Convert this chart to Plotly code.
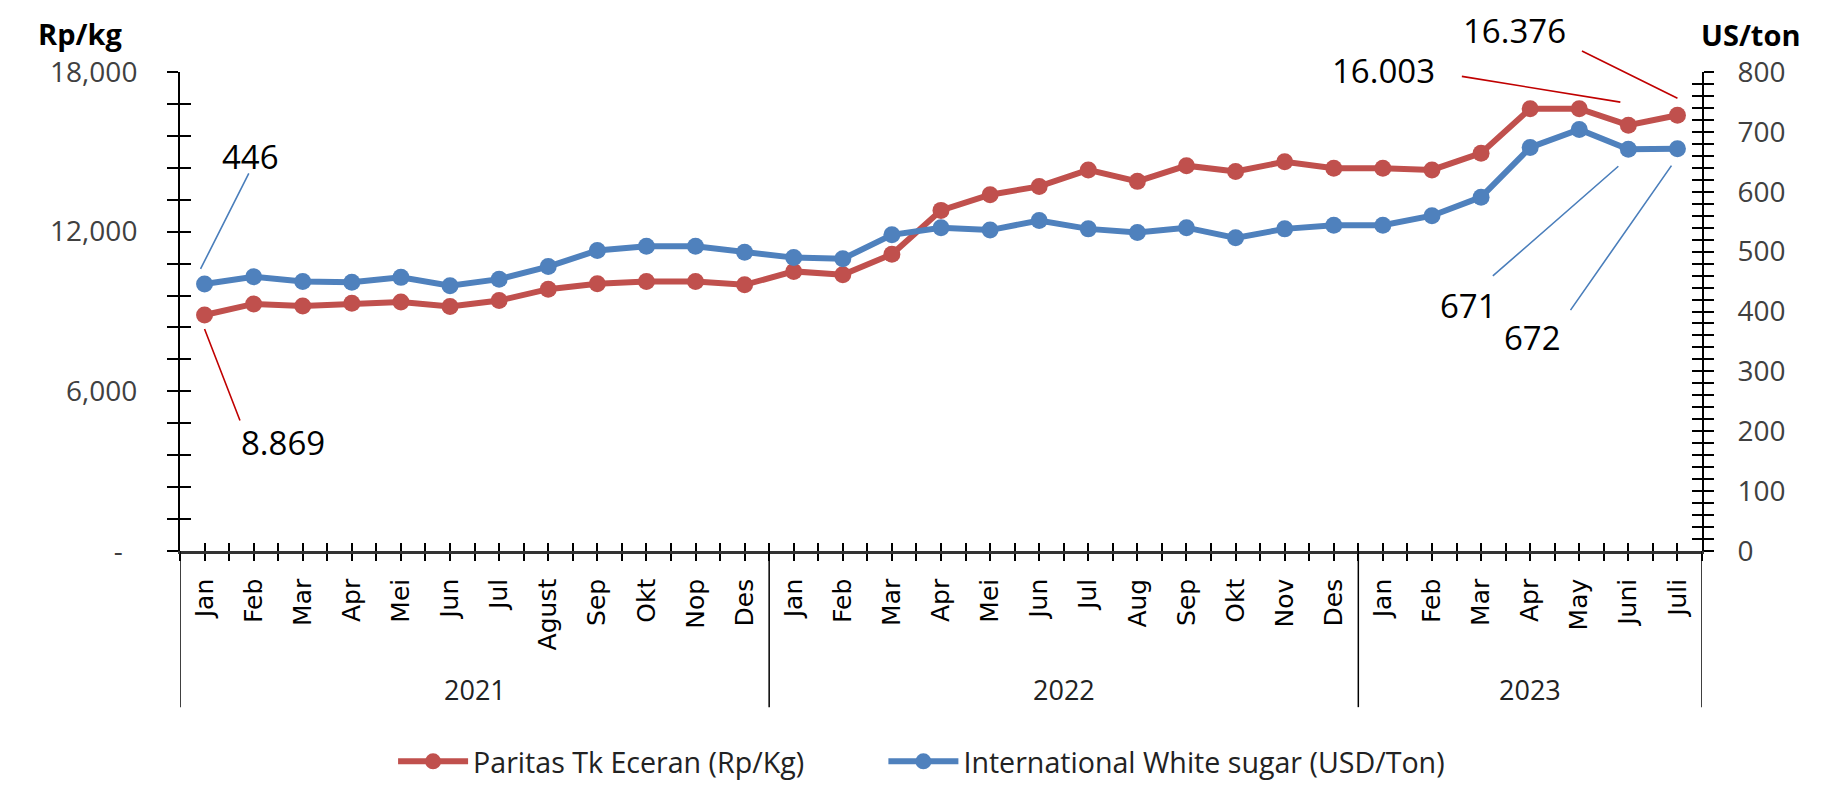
import plotly.graph_objects as go

# ---------------- data ----------------
months = ["Jan", "Feb", "Mar", "Apr", "Mei", "Jun", "Jul", "Agust", "Sep", "Okt", "Nop", "Des",
          "Jan", "Feb", "Mar", "Apr", "Mei", "Jun", "Jul", "Aug", "Sep", "Okt", "Nov", "Des",
          "Jan", "Feb", "Mar", "Apr", "May", "Juni", "Juli"]
years = ["2021"] * 12 + ["2022"] * 12 + ["2023"] * 7

paritas_rp_kg = [8869, 9285, 9209, 9310, 9360, 9184, 9411, 9839, 10041, 10129, 10129, 10003,
                 10507, 10381, 11150, 12800, 13390, 13700, 14320, 13890, 14480, 14260, 14630, 14380,
                 14380, 14320, 14950, 16620, 16620, 16003, 16376]
white_sugar_usd_ton = [446, 458, 450, 449, 457, 443, 454, 475, 502, 509, 509, 499,
                       490, 488, 528, 540, 536, 552, 538, 532, 540, 523, 538, 544,
                       544, 560, 591, 674, 704, 671, 672]

left_ticks = [0, 6000, 12000, 18000]
left_ticktext = ["-\u00a0\u00a0", "6,000", "12,000", "18,000"]

series_names = ["Paritas Tk Eceran (Rp/Kg)", "International White sugar (USD/Ton)"]

# data labels: (series, point index)
labelled_points = [("red", 0), ("red", 29), ("red", 30),
                   ("blue", 0), ("blue", 29), ("blue", 30)]

# ---------------- styling ----------------
RED = "#C0504D"
BLUE = "#4F81BD"
RED_LEADER = "#C00000"
BLUE_LEADER = "#4A7EBB"
TICK_FONT = "Open Sans, DejaVu Sans, sans-serif"

x = list(range(len(months)))

fig = go.Figure()
fig.add_trace(go.Scatter(
    x=x, y=paritas_rp_kg, name=series_names[0] + "\u00a0" * 10, mode="lines+markers",
    line=dict(color=RED, width=6), marker=dict(color=RED, size=17),
    xaxis="x", yaxis="y"))
fig.add_trace(go.Scatter(
    x=x, y=white_sugar_usd_ton, name=series_names[1], mode="lines+markers",
    line=dict(color=BLUE, width=6), marker=dict(color=BLUE, size=17),
    xaxis="x", yaxis="y2"))
# invisible helpers so that the overlay axes (inside half of the cross ticks) are drawn
fig.add_trace(go.Scatter(x=[None], y=[None], xaxis="x2", yaxis="y3", showlegend=False, hoverinfo="skip"))
fig.add_trace(go.Scatter(x=[None], y=[None], xaxis="x2", yaxis="y4", showlegend=False, hoverinfo="skip"))

n = len(months)
xrange = [-0.5, n - 0.5]
boundaries = [i - 0.5 for i in range(n + 1)]

# page body has an 8px margin: figure is 16px smaller so it fits the window exactly
fig.update_layout(
    width=1808, height=773,
    paper_bgcolor="white", plot_bgcolor="white",
    margin=dict(l=172, r=114, t=64, b=230, autoexpand=False),
    font=dict(family=TICK_FONT, color="#222"),
    showlegend=True,
    legend=dict(orientation="h", x=0.140, xanchor="left", y=-0.44, yanchor="middle",
                font=dict(size=28.6, family=TICK_FONT, color="#222"), itemwidth=70,
                bgcolor="rgba(0,0,0,0)"),
    xaxis=dict(range=xrange, tickmode="array", tickvals=x, ticktext=months, tickangle=-90,
               tickfont=dict(family="DejaVu Sans, sans-serif", size=25, color="black"),
               ticks="outside", ticklen=7, tickwidth=1.5, tickcolor="black",
               minor=dict(tickvals=boundaries, ticks="outside", ticklen=7, tickwidth=1.5, tickcolor="black"),
               showline=True, linecolor="#333", linewidth=2.5, showgrid=False, zeroline=False,
               ticklabelstandoff=8, fixedrange=True),
    xaxis2=dict(range=xrange, overlaying="x", anchor="y", side="bottom", tickmode="array",
                tickvals=x, ticks="inside", ticklen=8, tickwidth=1.5, tickcolor="black",
                minor=dict(tickvals=boundaries, ticks="inside", ticklen=8, tickwidth=1.5, tickcolor="black"),
                showticklabels=False, showline=False, showgrid=False, zeroline=False),
    yaxis=dict(range=[0, 18000], tickmode="array", tickvals=left_ticks, ticktext=left_ticktext,
               tickfont=dict(family=TICK_FONT, size=28, color="#404040"),
               ticks="outside", ticklen=11, tickwidth=1.5, tickcolor="black",
               minor=dict(dtick=1200, tick0=0, ticks="outside", ticklen=11, tickwidth=1.5, tickcolor="black"),
               showline=True, linecolor="black", linewidth=2, showgrid=False, zeroline=False,
               ticklabelstandoff=24),
    yaxis3=dict(range=[0, 18000], overlaying="y", anchor="x", side="left", dtick=1200, tick0=0,
                ticks="inside", ticklen=11, tickwidth=1.5, tickcolor="black",
                showticklabels=False, showline=False, showgrid=False, zeroline=False),
    yaxis2=dict(range=[0, 800], overlaying="y", anchor="x", side="right", dtick=100, tick0=0,
                tickfont=dict(family=TICK_FONT, size=28, color="#404040"),
                ticks="outside", ticklen=10, tickwidth=1.5, tickcolor="black",
                minor=dict(dtick=20, tick0=0, ticks="outside", ticklen=10, tickwidth=1.5, tickcolor="black"),
                showline=True, linecolor="black", linewidth=2, showgrid=False, zeroline=False,
                ticklabelstandoff=18),
    yaxis4=dict(range=[0, 800], overlaying="y", anchor="x", side="right", dtick=20, tick0=0,
                ticks="inside", ticklen=10, tickwidth=1.5, tickcolor="black",
                showticklabels=False, showline=False, showgrid=False, zeroline=False),
)

shapes = []
annotations = []

# year group separators and year labels
groups = []
for i, yr in enumerate(years):
    if not groups or groups[-1][0] != yr:
        groups.append([yr, i, i])
    else:
        groups[-1][2] = i
for gi, (yr, a, b) in enumerate(groups):
    edges = [a - 0.5, b + 0.5] if gi == 0 else [b + 0.5]
    for e in edges:
        shapes.append(dict(type="line", xref="x", yref="paper", x0=e, x1=e, y0=0, y1=-0.326,
                           line=dict(color="black", width=1.5)))
    annotations.append(dict(x=(a + b) / 2, y=-0.29, xref="x", yref="paper", text=yr,
                            showarrow=False, xanchor="center", yanchor="middle",
                            font=dict(size=27, family=TICK_FONT, color="#222")))

# axis unit titles
annotations.append(dict(x=-0.0657, y=1.081, xref="paper", yref="paper", text="<b>Rp/kg</b>",
                        showarrow=False, xanchor="center", yanchor="middle",
                        font=dict(size=29, family=TICK_FONT, color="black")))
annotations.append(dict(x=1.032, y=1.079, xref="paper", yref="paper", text="<b>US/ton</b>",
                        showarrow=False, xanchor="center", yanchor="middle", borderpad=0,
                        font=dict(size=29, family=TICK_FONT, color="black")))

# data labels and leader lines: (text shift), (leader head shift), (leader tail offset)
label_layout = {
    ("red", 0): ((78, -128), (0, -14), (36, 93)),
    ("red", 29): ((-245, 55), (-8, 23), (-160, -26)),
    ("red", 30): ((-163, 85), (0, 17), (-97, -48)),
    ("blue", 0): ((46, 127), (-4, 15), (49, -97)),
    ("blue", 29): ((-160, -156), (-10, -17), (-127, 111)),
    ("blue", 30): ((-145, -189), (-6, -17), (-102, 146)),
}
for series, idx in labelled_points:
    if series == "red":
        val = paritas_rp_kg[idx]
        txt = f"{val:,}".replace(",", ".")
        yref, lc = "y", RED_LEADER
    else:
        val = white_sugar_usd_ton[idx]
        txt = f"{val}"
        yref, lc = "y2", BLUE_LEADER
    (tx, ty), (hx, hy), (ax, ay) = label_layout[(series, idx)]
    annotations.append(dict(x=idx, y=val, xref="x", yref=yref, text=txt, showarrow=False,
                            xshift=tx, yshift=ty, xanchor="center", yanchor="middle", borderpad=0,
                            font=dict(size=33, family=TICK_FONT, color="black")))
    annotations.append(dict(x=idx, y=val, xref="x", yref=yref, text="", showarrow=True,
                            arrowhead=0, arrowwidth=1.6, arrowcolor=lc, standoff=0,
                            ax=ax, ay=ay, axref="pixel", ayref="pixel", xshift=hx, yshift=hy))

fig.update_layout(shapes=shapes, annotations=annotations)

fig.write_html("out.html", config={"displayModeBar": False})
